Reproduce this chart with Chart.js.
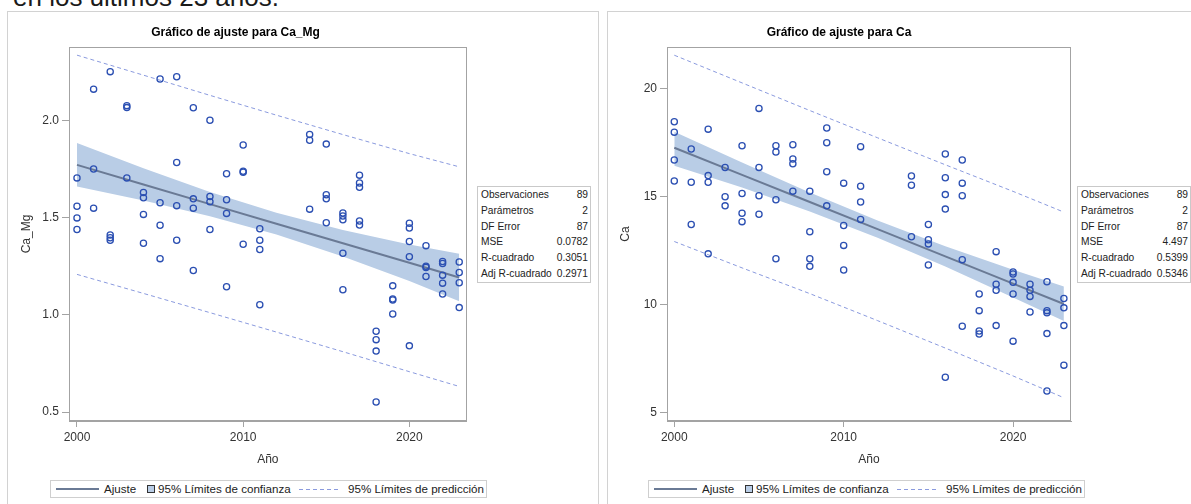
<!DOCTYPE html>
<html lang="es">
<head>
<meta charset="utf-8">
<title>Gráficos de ajuste Ca_Mg y Ca</title>
<script src="https://cdn.jsdelivr.net/npm/chart.js@4.4.0/dist/chart.umd.min.js"></script>
<style>
  body { margin:0; width:1191px; height:504px; overflow:hidden; background:#fff; position:relative;
         font-family:'Liberation Sans', Arial, sans-serif; }
  .intro { position:absolute; left:13px; top:-16px; font-size:26px; line-height:26px; color:#1a1a1a; white-space:nowrap; }
  .panel { position:absolute; top:11px; height:520px; border:1px solid #d2d2d2; }
  canvas { position:absolute; }
  .estad { position:absolute; border:1px solid #c9c9c9; background:#fff; border-collapse:collapse;
           font:10.2px 'Liberation Sans', Arial, sans-serif; color:#222; }
  .estad td { padding:0 2px 0 3px; height:15.8px; line-height:15.8px; white-space:nowrap; }
  .estad td.v { text-align:right; }
  .leyenda { position:absolute; top:480px; width:437px; height:18px; border:1px solid #cfcfcf; box-sizing:border-box;
             font:11.6px 'Liberation Sans', Arial, sans-serif; color:#222; }
  .leyenda span { position:absolute; top:0; line-height:16px; white-space:nowrap; }
  .leyenda i { position:absolute; display:block; }
</style>
</head>
<body>
<div class="intro">en los últimos 23 años.</div>
<div class="panel" style="left:7px; width:590px;"></div>
<div class="panel" style="left:607px; width:620px;"></div>
<canvas id="graficoCaMg" width="472" height="459" style="left:0; top:11px;"></canvas>
<canvas id="graficoCa" width="526" height="459" style="left:607px; top:11px;"></canvas>
<table class="estad" id="estadCaMg" style="left:477px; top:186px; width:113px;"></table>
<table class="estad" id="estadCa" style="left:1077px; top:186px; width:113px;"></table>
<div id="leyendas"></div>

<script>
// Observaciones (año de muestreo y valores medidos)
const anios = [
  2000,2000,2000,2000, 2001,2001,2001, 2002,2002,2002,2002, 2003,2003,2003,
  2004,2004,2004,2004, 2005,2005,2005,2005, 2006,2006,2006,2006, 2007,2007,2007,2007,
  2008,2008,2008,2008, 2009,2009,2009,2009, 2010,2010,2010,2010, 2011,2011,2011,2011,
  2014,2014,2014, 2015,2015,2015,2015, 2016,2016,2016,2016,2016, 2017,2017,2017,2017,2017,
  2018,2018,2018,2018, 2019,2019,2019,2019, 2020,2020,2020,2020,2020, 2021,2021,2021,2021,
  2022,2022,2022,2022,2022, 2023,2023,2023,2023
];
const caMg = [
  1.706,1.56,1.50,1.44, 2.163,1.752,1.55, 2.253,1.412,1.398,1.385, 2.078,2.068,1.706,
  1.631,1.604,1.518,1.369, 2.215,1.578,1.462,1.29, 2.227,1.785,1.563,1.385, 2.067,1.598,1.55,1.229,
  2.003,1.61,1.583,1.44, 1.727,1.593,1.523,1.145, 1.875,1.74,1.735,1.364, 1.444,1.385,1.337,1.053,
  1.93,1.90,1.545, 1.88,1.619,1.598,1.475, 1.525,1.51,1.49,1.318,1.13, 1.72,1.68,1.658,1.484,1.463,
  0.916,0.873,0.814,0.552, 1.15,1.082,1.077,1.005, 1.472,1.448,1.378,1.30,0.841, 1.357,1.251,1.245,1.198,
  1.275,1.265,1.205,1.164,1.108, 1.273,1.219,1.166,1.038
];
const ca = [
  18.46,17.98,16.69,15.72, 17.2,15.66,13.71, 18.12,15.97,15.66,12.35, 16.35,14.99,14.57,
  17.35,15.14,14.23,13.84, 19.08,16.35,15.04,14.18, 17.35,17.06,14.85,12.12, 17.4,16.74,16.52,15.25,
  15.25,13.37,12.12,11.77, 18.17,17.49,16.15,14.57, 15.62,13.66,12.74,11.6, 17.31,15.48,14.75,13.94,
  15.95,15.52,13.14, 13.71,13.0,12.81,11.83, 16.97,15.87,15.09,14.42,6.64, 16.69,15.62,15.04,12.08,9.0,
  10.49,9.72,8.78,8.64, 12.45,10.94,10.66,9.03, 11.51,11.42,11.03,10.49,8.31, 10.94,10.66,10.38,9.66,
  11.06,9.72,9.62,8.66,6.0, 10.28,9.85,9.03,7.2
];

// Recta ajustada y límites al 95 %
const aniosAjuste = [2000, 2004, 2008, 2012, 2016, 2020, 2023];
const ajusteCaMg  = [1.773, 1.672, 1.571, 1.470, 1.369, 1.269, 1.193];
const confInfCaMg = [1.661, 1.589, 1.509, 1.414, 1.301, 1.175, 1.071];
const confSupCaMg = [1.885, 1.755, 1.633, 1.526, 1.437, 1.363, 1.315];
const predInfCaMg = [1.209, 1.111, 1.012, 0.912, 0.811, 0.708, 0.632];
const predSupCaMg = [2.338, 2.235, 2.131, 2.029, 1.929, 1.831, 1.763];

const ajusteCa  = [17.26, 16.00, 14.75, 13.49, 12.23, 10.97, 10.03];
const confInfCa = [16.42, 15.42, 14.31, 13.09, 11.76, 10.33, 9.24];
const confSupCa = [18.00, 16.58, 15.19, 13.89, 12.70, 11.61, 10.84];
const predInfCa = [12.92, 11.70, 10.51, 9.26, 7.99, 6.70, 5.69];
const predSupCa = [21.54, 20.26, 18.98, 17.72, 16.47, 15.24, 14.28];

// Marcas de los ejes
const ticksAnio = [2000, 2010, 2020];
const ticksCaMg = [0.5, 1.0, 1.5, 2.0];
const ticksCa   = [5, 10, 15, 20];

// Estadísticos del ajuste
const nombresEstad = ['Observaciones', 'Parámetros', 'DF Error', 'MSE', 'R-cuadrado', 'Adj R-cuadrado'];
const estadCaMg = ['89', '2', '87', '0.0782', '0.3051', '0.2971'];
const estadCa   = ['89', '2', '87', '4.497', '0.5399', '0.5346'];

const FUENTE = "'Liberation Sans', Arial, sans-serif";
const GRIS_EJE = '#a3a3a3';
const AZUL_PUNTO = '#2b4fb2';
const AZUL_BANDA = '#b9cde6';
const COLOR_AJUSTE = '#6a7a95';
const COLOR_PRED = '#8a9ade';

// marco completo alrededor del area de datos
const marco = {
  id: 'marco',
  afterDatasetsDraw(chart) {
    const {ctx, chartArea: a} = chart;
    ctx.save();
    ctx.strokeStyle = GRIS_EJE;
    ctx.lineWidth = 1;
    ctx.strokeRect(Math.round(a.left) + 0.5, Math.round(a.top) + 0.5,
                   Math.round(a.width) - 1, Math.round(a.height) - 1);
    ctx.restore();
  }
};

function serie(xs, ys) {
  return xs.map((x, i) => ({x: x, y: ys[i]}));
}

function linea(datos, color, ancho, guiones) {
  return {data: datos, showLine: true, pointRadius: 0, borderColor: color,
          borderWidth: ancho, borderDash: guiones || [], fill: false, tension: 0};
}

function graficar(c) {
  const ctx = document.getElementById(c.id);
  new Chart(ctx, {
    type: 'scatter',
    data: {
      datasets: [
        {data: serie(anios, c.valores), pointRadius: 3.1, pointBorderWidth: 1.3,
         borderColor: AZUL_PUNTO, backgroundColor: 'rgba(0,0,0,0)', pointStyle: 'circle'},
        linea(serie(aniosAjuste, c.ajuste), COLOR_AJUSTE, 2),
        linea(serie(aniosAjuste, c.predSup), COLOR_PRED, 1, [4, 3]),
        linea(serie(aniosAjuste, c.predInf), COLOR_PRED, 1, [4, 3]),
        linea(serie(aniosAjuste, c.confInf), 'rgba(0,0,0,0)', 0),
        Object.assign(linea(serie(aniosAjuste, c.confSup), 'rgba(0,0,0,0)', 0),
                      {fill: '-1', backgroundColor: AZUL_BANDA})
      ]
    },
    options: {
      responsive: false,
      animation: false,
      devicePixelRatio: 1,
      layout: {padding: {left: 0, right: c.padDer, top: 0, bottom: 0}},
      plugins: {
        legend: {display: false},
        tooltip: {enabled: false},
        title: {display: true, text: c.titulo, color: '#000',
                font: {family: FUENTE, size: 12, weight: 'bold'},
                padding: {top: 14.8, bottom: 6.8}}
      },
      scales: {
        x: {
          type: 'linear', min: c.minX, max: c.maxX,
          afterBuildTicks: s => { s.ticks = ticksAnio.map(v => ({value: v})); },
          afterFit: s => { s.height = 49; },
          ticks: {color: '#333', font: {family: FUENTE, size: 12}, padding: 3.3,
                  maxRotation: 0, callback: v => String(v)},
          grid: {drawOnChartArea: false, drawTicks: true, tickLength: 6, color: GRIS_EJE},
          border: {display: true, color: GRIS_EJE},
          title: {display: true, text: 'Año', color: '#333',
                  font: {family: FUENTE, size: 12}, padding: {top: 0, bottom: 2.8}}
        },
        y: {
          min: c.minY, max: c.maxY,
          afterBuildTicks: s => { s.ticks = c.ticksY.map(v => ({value: v})); },
          afterFit: s => { s.width = c.anchoY; },
          ticks: {color: '#333', font: {family: FUENTE, size: 12}, padding: 3,
                  callback: c.formato},
          grid: {drawOnChartArea: false, drawTicks: true, tickLength: 7, color: GRIS_EJE},
          border: {display: true, color: GRIS_EJE},
          title: {display: true, text: c.nombreY, color: '#333',
                  font: {family: FUENTE, size: 12}, padding: {top: c.padTituloY, bottom: 0}}
        }
      }
    },
    plugins: [marco]
  });
}

graficar({
  id: 'graficoCaMg', titulo: 'Gráfico de ajuste para Ca_Mg', nombreY: 'Ca_Mg',
  valores: caMg, ajuste: ajusteCaMg, confInf: confInfCaMg, confSup: confSupCaMg,
  predInf: predInfCaMg, predSup: predSupCaMg, ticksY: ticksCaMg,
  minY: 0.454, maxY: 2.38, minX: 1999.52, maxX: 2023.45,
  anchoY: 69, padTituloY: 19.5, padDer: 1, formato: v => v.toFixed(1)
});

graficar({
  id: 'graficoCa', titulo: 'Gráfico de ajuste para Ca', nombreY: 'Ca',
  valores: ca, ajuste: ajusteCa, confInf: confInfCa, confSup: confSupCa,
  predInf: predInfCa, predSup: predSupCa, ticksY: ticksCa,
  minY: 4.615, maxY: 21.92, minX: 1999.57, maxX: 2023.42,
  anchoY: 60, padTituloY: 11.3, padDer: 62, formato: v => String(v)
});

// tablas de estadisticos
function tablaEstad(id, valores) {
  document.getElementById(id).innerHTML = nombresEstad
    .map((n, i) => `<tr><td>${n}</td><td class="v">${valores[i]}</td></tr>`).join('');
}
tablaEstad('estadCaMg', estadCaMg);
tablaEstad('estadCa', estadCa);

// leyendas bajo cada grafico
function leyenda(izq) {
  return `<div class="leyenda" style="left:${izq}px">
    <i style="left:5px; top:7px; width:43px; height:2px; background:${COLOR_AJUSTE}"></i>
    <span style="left:53px">Ajuste</span>
    <i style="left:96px; top:4px; width:6px; height:6px; border:1px solid #333; background:${AZUL_BANDA}"></i>
    <span style="left:107px">95% Límites de confianza</span>
    <i style="left:248px; top:8px; width:42px; height:1px;
       background:repeating-linear-gradient(to right, ${COLOR_PRED} 0 4px, transparent 4px 7px)"></i>
    <span style="left:297px">95% Límites de predicción</span>
  </div>`;
}
document.getElementById('leyendas').innerHTML = leyenda(50) + leyenda(648);
</script>
</body>
</html>
